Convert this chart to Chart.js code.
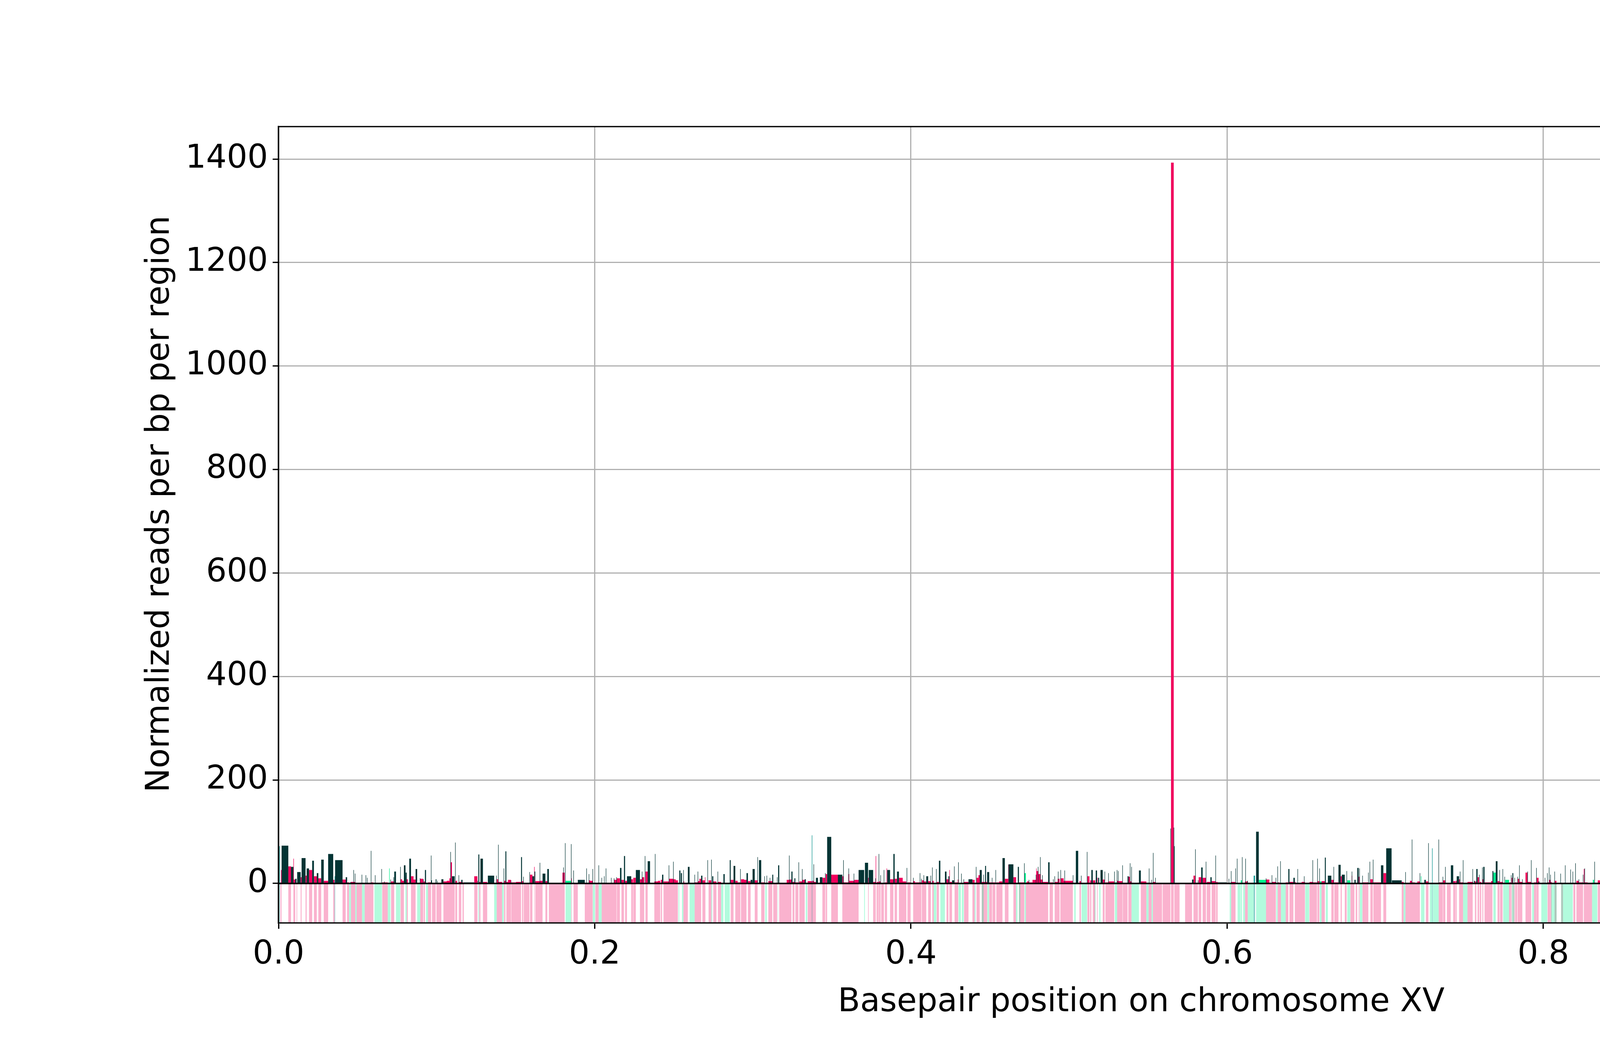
<!DOCTYPE html>
<html>
<head>
<meta charset="utf-8">
<script src="https://cdn.jsdelivr.net/npm/chart.js@4.4.1/dist/chart.umd.min.js"></script>
<style>
  html, body { margin: 0; padding: 0; background: #fff; overflow: hidden; }
  canvas { display: block; }
</style>
</head>
<body>
<canvas id="chromosomeChart" width="5700" height="2700" style="width:5700px;height:2700px"></canvas>
<script>
// Normalized transposon reads along chromosome XV.
// Every region is [start kb, end kb, reads per bp].
const noncodingDNA = [
  [1.9,6.2,73],[7.9,9.4,32],[10.6,11.4,9],[11.8,14.0,22],[14.6,17.1,49],[17.8,19.3,29],[21.3,22.4,44],[24.2,25.2,20],
  [27.0,28.6,46],[31.4,34.6,57],[35.8,40.5,45],[42.5,43.4,12],[45.5,45.8,3],[47.4,47.7,26],[48.3,48.6,19],[52.6,52.9,17],
  [55.1,55.4,16],[56.0,56.3,11],[58.4,58.7,63],[61.0,61.3,16],[65.1,65.4,28],[66.8,67.1,4],[70.8,71.1,7.5],[72.7,73.0,12],
  [73.2,74.3,23],[77.0,77.3,32],[79.3,80.3,35],[80.5,81.1,21],[82.7,83.8,48],[86.7,87.7,28],[89.4,89.7,10],[91.5,91.8,8],
  [92.6,93.3,26],[96.4,96.7,54],[96.7,97.1,6],[99.4,99.9,8],[100.4,100.7,5],[103.0,104.3,8],[108.7,109.0,61],[109.7,111.4,14],
  [111.7,112.0,79],[113.9,114.2,16],[115.6,116.4,7],[117.2,123.8,2],[125.8,126.1,5],[126.4,127.0,56],[127.7,129.3,48],
  [132.4,136.4,15],[137.7,138.0,15],[138.9,139.2,75],[142.4,142.7,29],[143.5,144.1,62],[147.0,147.2,6],[153.4,154.0,51],
  [154.8,155.1,13],[158.7,159.0,22],[160.6,161.7,14],[161.9,162.4,23],[165.2,165.5,40],[167.0,168.8,19],[170.0,171.0,28],
  [180.1,180.4,31],[181.2,181.5,78],[185.0,185.3,76],[186.5,186.8,25],[189.3,193.7,7],[194.7,195.0,29],[196.2,196.5,18],
  [198.6,198.9,28],[202.4,202.7,35],[204.3,204.6,11],[205.9,206.2,14],[207.0,207.3,29],[210.3,210.6,11],[212.1,212.4,10],
  [213.7,214.0,12],[216.0,216.9,30],[218.5,219.2,53],[220.4,223.1,14],[226.0,228.6,26],[229.8,230.1,23],[231.7,232.0,53],
  [233.5,235.0,43],[238.1,238.4,57],[242.6,243.4,17],[246.8,247.1,35],[249.6,249.9,42],[253.5,254.2,25],[254.5,255.2,20],
  [256.0,256.3,26],[258.9,260.0,32],[263.1,263.4,17],[265.1,265.4,23],[267.3,268.1,15],[271.3,271.6,45],[273.7,274.0,46],
  [274.3,275.0,14],[277.7,278.0,23],[281.4,282.2,18],[285.4,286.0,45],[287.8,288.9,34],[292.0,292.3,28],[296.0,296.9,20],
  [298.6,299.7,7],[299.9,301.2,28],[302.9,303.2,51],[303.9,305.3,45],[307.3,307.6,14],[308.7,309.0,15],[310.7,311.0,11],
  [312.3,312.9,17],[315.3,315.6,12],[316.0,316.7,35],[322.9,323.2,54],[324.4,325.1,23],[326.3,326.9,10],[328.9,329.2,41],
  [331.1,331.4,28],[332.8,333.5,8],[338.4,338.7,37],[339.9,341.2,11],[342.4,344.0,12],[345.7,346.0,20],[347.0,349.6,90],
  [353.8,356.6,17],[357.2,357.5,45],[360.5,360.8,29],
  [363.8,364.1,19],[366.9,370.4,26],[370.9,372.9,40],[373.3,376.1,26],[377.5,377.8,10],[379.6,379.9,57],[380.7,381.0,16],
  [382.8,383.1,26],[385.0,386.8,26],[388.9,389.7,57],[391.2,392.4,23],[397.3,397.6,30],[401.4,401.7,11],[405.6,405.9,20],
  [406.5,406.8,9],[408.0,408.3,16],[409.7,410.9,14],[412.4,412.7,15],[413.4,413.7,31],[415.9,416.2,28],[417.7,418.6,44],
  [421.5,422.5,23],[423.7,424.3,14],[426.0,427.3,6],[427.3,427.6,33],[429.9,430.2,41],[431.8,432.1,19],[433.3,433.6,8],
  [436.4,438.9,8],[441.1,441.4,32],[443.5,444.8,26],[445.8,446.1,17],[446.9,447.5,34],[448.2,449.5,22],[451.2,451.5,11],
  [453.5,453.8,26],[457.9,459.4,49],[461.7,464.8,37],[467.6,468.3,32],[471.6,471.9,39],[474.5,474.8,7],[479.0,479.3,17],
  [480.3,480.6,32],[481.7,482.0,51],[483.0,483.3,16],[486.8,487.7,41],[489.9,490.2,8],[490.8,491.1,14],[493.0,493.3,23],
  [494.6,494.9,26],[497.1,497.4,25],[502.4,502.7,16],[504.3,505.8,63],[507.6,507.9,15],[511.3,511.6,61],[514.1,515.0,26],
  [516.9,517.7,25],[518.4,519.1,11],[519.9,521.3,26],[522.5,522.8,23],[524.8,525.1,20],[528.6,528.9,23],[530.2,530.5,26],
  [531.0,531.3,24],[533.7,534.0,35],[537.0,537.7,14],[538.5,538.8,39],[539.4,539.7,32],[544.2,545.4,25],
  [550.5,550.8,29],[552.1,552.4,7],[553.1,553.4,59],[554.5,554.8,11],[564.1,564.4,106],[566.2,566.5,108],[566.5,566.8,72],
  [577.8,578.7,7.5],[579.8,580.1,66],[581.5,581.8,6],[583.6,584.5,31],[586.5,586.8,42],[589.4,590.2,12],[592.6,592.9,54],
  [594.0,599.6,2],[601.0,601.3,9],[602.4,602.7,24],[605.2,605.5,29],[606.2,606.5,48],[609.4,609.7,51],[611.5,611.8,48],
  [612.7,613.1,5],[618.3,620.0,100],[624.5,624.8,10],[628.2,628.5,16],[630.7,631.0,11],[631.8,632.1,33],[633.6,633.9,43],
  [638.7,639.4,28],[641.9,642.8,11],[644.5,644.8,28],[648.6,648.9,14],[654.0,654.3,45],[657.0,657.3,48],[658.3,658.6,29],
  [661.8,662.4,50],[663.7,665.9,15],[667.3,667.6,32],[670.4,671.8,36],[672.5,674.4,17],[675.5,675.8,24],[678.8,679.1,23],
  [680.5,681.3,7],[682.3,683.2,30],[683.6,683.9,29],[685.5,685.8,15],[689.2,689.5,21],[690.1,690.4,42],[692.2,692.5,46],
  [697.3,698.8,35],[700.6,704.0,68],[704.2,710.4,6],[712.7,713.0,22],[716.8,717.1,85],[721.8,722.1,20],[724.7,725.7,7],
  [727.2,727.5,78],
  [733.7,734.0,85],[736.3,736.6,13],[737.9,738.2,32],[741.5,743.0,35],[745.2,746.7,14],[747.2,747.5,23],[749.1,749.4,45],
  [755.2,755.5,28],[756.1,756.7,5],[757.6,758.4,28],[759.3,759.6,17],[761.3,761.6,31],[762.0,762.8,32],[767.8,768.4,24],
  [769.9,771.0,43],[772.2,772.5,26],[774.2,774.5,28],[775.4,775.7,13],[779.5,779.8,16],[780.4,781.0,20],[781.7,782.0,11],
  [783.6,783.9,13],[784.7,785.0,35],[786.6,786.9,8],[789.9,790.2,23],[792.2,792.5,45],[795.5,795.8,30],[797.0,797.5,4],
  [800.9,801.2,11],[802.4,802.7,20],[803.5,803.8,31],[804.4,804.7,17],[807.0,807.3,23],[810.8,811.1,19],[813.7,814.0,35],
  [817.1,817.4,27],[818.5,818.8,23],[820.2,820.5,39],[822.3,822.6,8],[825.0,825.3,17],[826.0,826.3,29],[832.3,832.6,42],
  [836.4,837.7,62],[841.0,841.3,48],[841.9,842.8,15],[845.9,846.2,23],[847.2,848.5,11],[849.1,849.4,14],[849.9,850.2,36],
  [850.7,851.0,9],[853.2,853.5,35],[854.1,855.1,9],[860.4,861.3,20],[866.6,866.9,62],[868.0,868.7,9],[869.1,869.4,13],
  [869.9,870.2,17],[875.4,875.7,39],[877.7,878.4,40],[880.8,881.1,23],[882.4,882.7,42],[884.1,884.4,34],[888.0,888.9,11],
  [891.4,892.6,37],[894.1,894.4,21],[898.4,899.1,36],[900.0,900.3,21],[901.0,901.9,5],[903.1,904.9,6],[907.5,908.3,35],
  [908.3,909.2,37],
  [912.6,912.9,44],[915.3,916.2,35],[918.6,918.9,25],[921.3,921.6,16],[923.0,923.3,42],[925.1,925.9,51],[930.6,930.9,6],
  [931.3,931.6,61],[939.6,939.9,35],[943.5,943.8,69],[944.3,944.6,7],[949.2,949.9,31],[954.1,954.4,55],[956.7,957.0,39],
  [958.1,958.4,14],[960.3,961.2,21],[966.3,968.5,69],[968.7,977.3,20],[978.3,981.5,109],[984.9,985.2,19],[986.7,987.0,25],
  [988.9,989.9,62],[996.6,998.5,34],[1001.1,1001.4,17],[1003.4,1005.2,18],[1007.0,1007.3,27],[1009.4,1009.7,14],
  [1010.0,1010.3,45],[1011.0,1011.3,63],[1014.9,1015.2,4],[1017.7,1018.0,22],[1018.8,1020.4,20],[1023.2,1023.5,22],
  [1025.9,1026.2,46],[1026.7,1027.0,23],[1028.9,1029.2,17],[1031.2,1031.5,21],[1034.4,1034.7,15],[1036.7,1037.0,7],
  [1039.7,1040.0,66],[1043.7,1046.5,51],[1048.0,1049.7,42],[1051.2,1051.5,34],[1053.1,1055.7,21],[1057.9,1059.5,45],
  [1060.3,1060.6,9],[1061.4,1061.7,46],[1063.7,1065.3,32],[1066.3,1066.6,18],[1068.7,1069.4,3],[1070.4,1071.9,11],
  [1073.1,1074.4,25],[1076.3,1076.6,73],[1078.1,1078.4,7.5],[1081.9,1082.7,1],[1083.5,1083.8,107]
];

const essentialGenes = [
  [44.6,45.8,0.5],[48.6,49.4,0.5],[52.8,54.5,0.5],[60.7,65.4,0.5],[69.1,70.0,1],[70.0,70.3,29],[70.3,70.8,1],[74.3,77.0,1.5],
  [80.3,81.1,0.5],[87.7,89.7,0.5],[93.3,94.5,0.5],[126.4,126.9,0.5],[136.4,138.0,0.5],[141.4,142.5,0.5],
  [181.6,185.1,5],[198.8,200.2,1],[202.5,204.4,1],[253.0,253.5,0.5],[255.2,256.1,0.5],[260.0,263.2,0.5],[273.8,274.3,0.5],
  [279.9,281.4,0.5],[282.2,285.4,0.5],[307.9,308.8,0.5],[315.8,316.0,0.5],[333.5,334.4,0.5],
  [370.4,370.9,0.5],[414.4,416.1,0.5],[418.6,421.5,0.5],[430.1,431.6,0.5],[432.2,433.4,0.5],[440.3,440.9,0.5],[444.8,446.0,0.5],
  [448.3,449.4,0.5],[466.5,467.4,0.5],[468.3,469.2,0.5],[471.9,472.7,20],[503.3,504.2,0.5],[507.9,511.4,0.5],[516.2,516.7,0.5],
  [519.1,519.9,1.5],[529.0,530.4,2],[539.5,544.2,0.5],
  [548.9,550.3,0.5],[552.2,553.0,0.5],[601.6,602.5,0.5],[606.6,608.4,0.5],[608.6,609.4,6],[610.1,611.3,0.5],[613.0,616.8,0.5],
  [618.3,620.0,0.5],[620.0,624.6,7],[631.1,631.9,0.5],[634.0,637.0,0.5],[649.4,651.9,0.5],[658.6,659.7,4],[662.4,663.7,0.5],
  [676.0,677.9,6],[683.9,685.5,1],[711.6,712.8,0.5],[722.6,722.9,14],[722.9,724.8,0.5],
  [728.2,729.6,0.5],[730.0,733.8,0.5],[749.2,752.0,0.5],[768.4,769.9,21],[774.6,775.9,0.5],[775.9,778.3,7],[780.1,781.6,0.5],
  [792.9,794.1,0.5],[798.7,802.5,0.5],[804.9,808.4,0.5],[811.2,818.6,0.5],[830.8,831.3,0.5],[831.3,832.1,7],[832.1,834.1,0.5],
  [843.1,847.1,0.5],[847.1,847.4,18],[850.6,852.0,0.5],[868.7,869.2,0.5],[897.0,898.4,0.5],
  [912.7,913.7,0.5],[925.9,930.7,0.5],[936.5,939.7,0.5],[946.3,954.5,0.5],[959.1,966.3,0.5],[998.5,1001.1,2],
  [1015.5,1019.0,0.5],[1029.4,1031.4,0.5],[1034.7,1039.7,0.5]
];

const nonessentialGenes = [
  [1.1,1.5,2],[1.5,1.9,26],[6.2,7.9,33],[9.4,9.7,48],[9.7,10.6,7.5],[11.4,11.8,1],[14.0,14.6,12],[17.1,17.8,15],[19.3,21.3,26],
  [22.4,24.2,14],[25.2,27.0,10],[28.6,31.4,5],[34.6,35.5,7],[40.5,42.5,7.5],[43.4,44.6,2],[45.8,48.6,3],[49.4,52.8,1],
  [54.5,56.3,1],[56.3,58.6,1.5],[58.6,60.0,2],[65.6,69.1,2],[71.2,73.2,4],[77.2,78.2,8],[78.2,79.3,5],[81.1,81.8,8],
  [83.8,85.4,14],[85.4,86.7,7.5],[89.7,91.5,9],[91.8,92.6,4],[94.5,96.5,2],[97.1,99.4,1.5],[99.9,101.1,1],[101.1,103.0,1.5],
  [104.3,106.4,4],[106.4,108.1,5],[108.1,108.8,10],[108.8,109.7,41],[109.7,111.4,2],[111.8,113.0,5],[114.0,115.6,3],
  [116.4,117.2,2],[123.8,125.8,14],[127.0,127.7,3],[129.3,132.0,3],[138.0,138.9,8],[138.9,141.4,3],[142.7,143.5,5],
  [144.1,145.2,3],[145.2,147.0,7],[147.2,150.2,2],[150.2,153.4,3],[154.0,154.8,4.5],[155.1,158.7,1.5],[159.1,160.6,17],
  [161.7,162.0,32],[162.4,165.4,4.5],[165.4,167.0,5],[168.8,170.0,4.5],[171.0,179.6,0.5],
  [179.6,181.0,21],[185.2,185.5,10],[186.6,189.3,0.5],[193.7,196.3,1],[196.3,197.1,6],[197.1,198.7,5],[200.4,202.5,1.5],
  [204.4,212.2,1],[212.2,213.8,7],[214.0,215.9,10],[216.9,218.5,7],[219.2,220.4,5],[223.1,224.2,8],[224.4,226.0,11],
  [228.6,229.9,8],[229.9,231.3,12],[232.1,233.5,23],[237.7,240.0,4],[240.0,241.4,5],[241.8,242.6,7],[243.5,246.9,4],
  [246.9,249.7,9],[249.7,251.2,8],[251.2,252.6,6],[256.1,256.6,4.5],[256.6,258.9,1.5],[263.2,265.2,2],[265.2,266.2,4.5],
  [266.2,267.3,9],[268.1,269.7,6],[269.7,270.0,12],[272.0,273.8,6],[275.0,277.0,4],[277.9,279.9,3],[286.0,287.8,7],
  [288.9,290.4,5],[290.4,292.1,2],[292.5,294.5,8],[294.5,296.0,7],[296.9,298.6,4.5],[301.2,303.0,6],[305.3,307.4,2],
  [309.8,312.3,4.5],[312.9,315.4,1.5],[316.7,321.4,1.5],[321.4,323.0,7],[323.0,324.4,7.5],[325.1,326.3,3],[326.9,328.8,2],
  [329.4,331.2,4],[331.2,332.8,7],[334.7,337.4,4.5],[337.4,338.5,5],[338.5,339.9,3],[344.0,345.8,11],[346.1,347.0,18],
  [349.6,353.8,17],[356.6,357.3,14],[357.5,360.4,2],[360.4,361.0,18],[361.0,362.5,5],
  [362.5,364.2,5],[364.2,366.9,7],[372.9,373.3,11],[376.1,377.5,3],[377.7,378.0,53],[378.4,379.6,3],[379.8,380.8,4],
  [381.2,382.9,1.5],[383.5,384.6,2],[384.6,384.9,29],[386.8,388.9,8],[389.7,391.2,9],[392.4,394.8,11],[394.8,397.1,4],
  [397.8,399.8,2],[401.4,402.5,4.5],[402.5,406.6,2],[406.9,408.2,6],[408.2,409.7,4],[410.9,412.6,4.5],[413.5,414.4,5],
  [416.3,417.7,3],[422.5,423.7,8],[424.3,424.6,26],[424.6,426.0,3],[427.6,429.6,2],[429.6,429.9,7.5],[433.6,436.4,3],
  [438.9,440.3,7],[441.5,442.7,11],[442.7,443.5,16],[444.8,448.2,3],[449.5,451.3,2],[451.6,453.4,2],[454.0,455.8,2],
  [455.8,457.9,4],[459.4,461.5,9],[461.5,461.7,36],[464.8,466.5,12],[468.4,471.7,2],[472.7,473.4,2],[473.4,474.6,4],
  [474.6,476.9,2],[476.9,479.1,7],[479.3,479.5,29],[479.5,480.7,24],[480.7,482.1,18],[482.1,483.4,7.5],[483.4,486.8,3],
  [487.7,489.8,2],[490.9,492.8,3],[492.8,494.0,9],[494.5,496.6,10],[496.6,502.4,5],[506.6,507.5,4.5],[511.6,512.9,14],
  [513.3,514.1,6],[515.0,516.6,6],[517.7,518.1,11],[521.3,522.5,7.5],[523.0,525.0,2],[525.0,528.6,4],[530.4,531.1,5],
  [531.1,533.8,4.5],[534.0,537.0,1.5],[537.5,538.5,13],[538.5,539.5,4],
  [545.4,548.9,4],[550.3,552.2,1],[553.0,554.7,3],[554.7,558.8,1.5],[559.2,564.1,0.5],[564.5,566.2,1393],[566.6,569.9,0.5],
  [573.4,577.8,0.5],[578.7,579.9,15],[579.9,581.5,1.5],[582.0,583.6,12],[584.5,586.6,11],[587.1,589.4,3],[590.2,592.7,4.5],
  [593.0,594.0,3],[602.5,605.3,3],[611.3,613.0,4],[624.6,626.7,7.5],[626.7,628.3,1.5],[628.3,630.8,3],[632.0,633.1,2],
  [633.1,634.0,1],[637.0,638.7,2],[639.4,641.9,3],[642.8,643.3,3],[643.3,647.1,1.5],[647.1,649.2,3],[652.1,654.1,3],
  [654.1,656.8,2],[657.1,658.3,4.5],[659.7,661.8,4.5],[665.9,667.4,7],[667.8,670.4,2],[671.8,672.5,14],[674.4,675.6,1],
  [678.0,680.5,1],[678.8,679.1,15],[681.3,682.3,1],[683.2,683.7,13],[685.6,689.3,2],[690.6,692.1,8],[692.5,697.3,2],
  [698.8,700.6,20],[710.4,711.6,3],[712.8,715.6,1],[715.6,716.9,5],[716.9,718.7,2],[718.7,720.3,1],[720.3,721.9,4],
  [725.7,727.3,4],
  [733.8,736.4,2],[736.6,738.0,6],[739.0,741.4,0.5],[743.0,744.3,4.5],[744.5,745.2,5],[746.7,747.3,8],[747.3,749.2,2],
  [752.0,755.3,3],[756.7,757.6,4],[758.4,759.4,12],[759.8,760.7,3],[761.4,762.0,8],[762.8,766.9,2],[766.9,767.8,4.5],
  [771.0,772.3,4.5],[772.6,774.2,3],[778.3,779.6,2],[779.9,780.4,11],[781.0,781.8,1.5],[782.1,783.4,2],[783.7,784.7,9],
  [784.7,786.7,3],[788.7,790.0,21],[790.0,792.3,3],[794.1,795.5,2],[795.6,797.0,11],[802.7,803.6,2],[803.6,804.4,7],
  [804.5,805.2,3],[807.1,808.3,5],[811.3,812.4,1],[819.0,820.2,1.5],[820.9,822.4,5],[822.4,825.1,2],[825.6,826.1,28],
  [826.1,828.0,2],[828.0,830.8,1],[834.4,836.4,6],[837.7,839.1,14],[839.1,841.1,1.5],[841.1,841.9,3],[844.8,846.0,4],
  [849.1,850.0,6],[850.0,850.8,3],[852.1,853.3,2],[853.3,854.1,14],[855.1,860.4,0.5],[861.3,865.8,3],[865.8,866.7,7.5],
  [869.2,873.5,3],[873.8,874.2,3],[874.6,877.2,3],[877.2,877.7,1],[878.4,880.6,3],[880.6,880.9,28],[881.0,882.2,16],
  [882.7,884.0,5],[884.5,888.0,1.5],[889.7,891.4,10],[892.6,894.2,13],[894.7,896.4,7],[899.1,900.0,4.5],[900.3,902.0,4],
  [902.0,903.1,6],[903.5,904.4,1],[905.5,906.3,1.5],[906.5,907.5,7.5],[909.2,911.1,6],
  [911.1,911.7,1],[911.7,912.7,17],[913.7,915.3,2],[916.2,918.7,9],[918.7,921.4,3],[921.6,923.1,1],[923.3,925.1,3],
  [931.9,936.5,3],[939.9,943.8,2],[944.5,946.3,4],[954.5,956.8,8],[956.8,958.2,10],[958.2,959.1,2],[968.4,968.6,158],
  [977.3,978.2,0.5],[981.9,985.0,6],[985.2,986.9,2],[987.0,988.9,151],[989.9,992.8,17],[993.1,996.6,15],[1001.1,1003.4,3],
  [1005.2,1007.0,2],[1007.3,1009.4,9],[1009.4,1010.0,14],[1010.0,1011.1,8],[1011.1,1013.1,3],[1013.4,1014.9,2],
  [1020.4,1023.4,3],[1023.4,1026.0,13],[1026.0,1026.8,12],[1026.8,1028.2,4],[1031.4,1034.4,4],[1039.9,1041.8,2],
  [1041.8,1043.7,11],[1043.5,1043.8,48],[1046.5,1048.3,11],[1049.7,1051.1,7.5],[1051.0,1051.3,64],[1051.4,1053.1,14],
  [1055.7,1057.9,11],[1060.3,1061.4,6],[1061.6,1063.7,12],[1065.3,1066.2,5],[1066.8,1068.7,3],[1069.4,1070.4,2],
  [1071.9,1073.1,1.5],[1074.4,1076.1,9],[1076.7,1078.1,1.5],[1078.6,1079.1,1.5],[1079.4,1079.7,20],[1080.0,1081.9,1.5],
  [1085.4,1091.3,0.5]
];

const otherRegions = [
  [0.5,0.8,72],[35.5,35.8,14],[337.3,337.6,93],[616.8,617.6,15],[729.6,729.9,68],[873.5,873.8,12],[981.5,981.8,66],
  [1083.9,1085.4,26]
];

const seriesLabels = ['Noncoding DNA', 'Annotated essential genes', 'Nonessential genes', 'Other genomic regions'];
const xTicksKb = [0, 200, 400, 600, 800, 1000];
const yTicks = [0, 200, 400, 600, 800, 1000, 1200, 1400];
const chromosomeLengthKb = 1091.291;
const yLimits = [-76.3, 1462.7];
const xAxisLabel = 'Basepair position on chromosome XV';
const yAxisLabel = 'Normalized reads per bp per region';

// style only
const seriesColors = ['#033434', '#00f28d', '#f0005c', '#00918b'];
const stripColors = ['rgba(0,242,141,0.3)', 'rgba(240,0,92,0.3)', 'rgba(0,145,139,0.5)'];

// each region becomes a closed box on the baseline: up, across, down
function regionSteps(regions, floor) {
  const points = [];
  regions.forEach(([start, end, value]) => {
    const h = floor === undefined ? value : floor;
    points.push({ x: start, y: 0 }, { x: start, y: h }, { x: end, y: h }, { x: end, y: 0 });
  });
  return points;
}

function areaDataset(label, regions, color, order, floor) {
  return {
    label: label,
    data: regionSteps(regions, floor),
    order: order,
    backgroundColor: color,
    borderColor: 'rgba(0,0,0,0)',
    borderWidth: 0,
    pointRadius: 0,
    pointHoverRadius: 0,
    tension: 0,
    fill: 'origin',
  };
}

const FONT = "'DejaVu Sans', 'Liberation Sans', sans-serif";
Chart.defaults.font.family = FONT;
Chart.defaults.color = '#000';

// annotation strip under zero, frame, zero line, y label, offset text and the boxed legend
const frameAndLegend = {
  id: 'frameAndLegend',
  beforeDatasetsDraw(chart) {
    const { ctx, chartArea: a, scales } = chart;
    const y0 = scales.y.getPixelForValue(0);
    ctx.save();
    ctx.fillStyle = '#fff';
    ctx.fillRect(a.left, y0 + 2, a.right - a.left, a.bottom - y0);
    ctx.restore();
  },
  afterDatasetsDraw(chart) {
    const { ctx, chartArea: a, scales } = chart;
    const y0 = scales.y.getPixelForValue(0);
    ctx.save();
    ctx.strokeStyle = '#000';
    ctx.lineWidth = 4;
    ctx.beginPath();
    ctx.moveTo(a.left, y0);
    ctx.lineTo(a.right, y0);
    ctx.stroke();
    ctx.lineWidth = 3.3;
    ctx.strokeRect(a.left, a.top, a.right - a.left, a.bottom - a.top);

    ctx.fillStyle = '#000';
    ctx.font = '83px ' + FONT;
    ctx.textAlign = 'right';
    ctx.textBaseline = 'alphabetic';
    ctx.fillText('1e6', a.right, 2542);

    // y label sits a little above the middle of the axes, as in the source figure
    ctx.save();
    ctx.translate(410, 1290);
    ctx.rotate(-Math.PI / 2);
    ctx.textAlign = 'center';
    ctx.textBaseline = 'middle';
    ctx.fillText(yAxisLabel, 0, 0);
    ctx.restore();

    // legend box in the upper right corner of the axes
    const boxW = 706, boxH = 257;
    const bx = a.right - 21 - boxW, by = a.top + 21;
    ctx.beginPath();
    if (ctx.roundRect) ctx.roundRect(bx, by, boxW, boxH, 9);
    else ctx.rect(bx, by, boxW, boxH);
    ctx.fillStyle = 'rgba(255,255,255,0.8)';
    ctx.fill();
    ctx.strokeStyle = 'rgba(204,204,204,0.9)';
    ctx.lineWidth = 3;
    ctx.stroke();
    ctx.font = '41px ' + FONT;
    ctx.textAlign = 'left';
    ctx.textBaseline = 'middle';
    chart.data.datasets.slice(0, 4).forEach((ds, i) => {
      const cy = by + 33 + i * 61;
      ctx.fillStyle = ds.backgroundColor;
      ctx.fillRect(bx + 16, cy - 17, 87, 34);
      ctx.fillStyle = '#000';
      ctx.fillText(ds.label, bx + 135, cy + 1);
    });
    ctx.restore();
  },
};

new Chart(document.getElementById('chromosomeChart'), {
  type: 'line',
  data: {
    datasets: [
      areaDataset(seriesLabels[0], noncodingDNA, seriesColors[0], 1),
      areaDataset(seriesLabels[1], essentialGenes, seriesColors[1], 2),
      areaDataset(seriesLabels[2], nonessentialGenes, seriesColors[2], 3),
      areaDataset(seriesLabels[3], otherRegions, seriesColors[3], 0),
      areaDataset('essential strip', essentialGenes, stripColors[0], 10, yLimits[0]),
      areaDataset('nonessential strip', nonessentialGenes, stripColors[1], 10, yLimits[0]),
      areaDataset('other strip', otherRegions, stripColors[2], 9, yLimits[0]),
    ],
  },
  options: {
    responsive: false,
    devicePixelRatio: 1,
    animation: false,
    events: [],
    layout: { padding: { left: 0, top: 324, right: 570, bottom: 0 } },
    plugins: { legend: { display: false }, tooltip: { enabled: false } },
    scales: {
      x: {
        type: 'linear',
        min: 0,
        max: chromosomeLengthKb,
        afterBuildTicks: (scale) => { scale.ticks = xTicksKb.map((v) => ({ value: v })); },
        afterFit: (scale) => { scale.height = 338; },
        ticks: {
          font: { size: 83 },
          padding: 18,
          maxRotation: 0,
          autoSkip: false,
          callback: (v) => (v / 1000).toFixed(1),
        },
        grid: { color: '#b0b0b0', lineWidth: 3, tickColor: '#000', tickWidth: 3.3, tickLength: 15 },
        border: { display: true, color: '#000', width: 3.3 },
        title: {
          display: true,
          text: xAxisLabel,
          font: { size: 83 },
          padding: { top: 0, bottom: 84 },
        },
      },
      y: {
        type: 'linear',
        min: yLimits[0],
        max: yLimits[1],
        afterBuildTicks: (scale) => { scale.ticks = yTicks.map((v) => ({ value: v })); },
        afterFit: (scale) => { scale.width = 713; },
        ticks: { font: { size: 83 }, padding: 12, autoSkip: false, callback: (v) => String(v) },
        grid: { color: '#b0b0b0', lineWidth: 3, tickColor: '#000', tickWidth: 3.3, tickLength: 15 },
        border: { display: true, color: '#000', width: 3.3 },
      },
    },
  },
  plugins: [frameAndLegend],
});
</script>
</body>
</html>
